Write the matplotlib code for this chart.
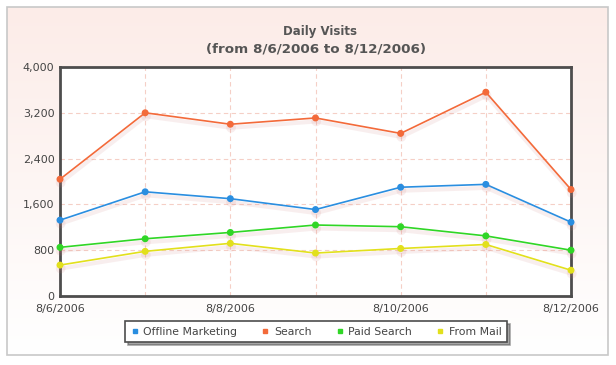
import matplotlib
matplotlib.use("Agg")
import matplotlib.pyplot as plt
import matplotlib.patheffects as pe
from matplotlib.patches import Rectangle
import numpy as np

dates = ["8/6/2006", "8/7/2006", "8/8/2006", "8/9/2006", "8/10/2006", "8/11/2006", "8/12/2006"]
offline_marketing = [1325, 1820, 1700, 1510, 1900, 1950, 1290]
search = [2040, 3200, 3000, 3110, 2840, 3560, 1860]
paid_search = [850, 1000, 1110, 1240, 1210, 1050, 800]
from_mail = [540, 780, 920, 750, 830, 900, 450]
y_ticks = [0, 800, 1600, 2400, 3200, 4000]

series = [
    ("Offline Marketing", offline_marketing, "#2a8ee0"),
    ("Search", search, "#f36a3a"),
    ("Paid Search", paid_search, "#30d626"),
    ("From Mail", from_mail, "#e2e01c"),
]

W, H = 616, 365
fig = plt.figure(figsize=(W / 100, H / 100), dpi=100)
fig.patch.set_facecolor("white")

# background frame with gradient
bg = fig.add_axes([0, 0, 1, 1], zorder=0)
bg.set_xlim(0, W)
bg.set_ylim(H, 0)
bg.axis("off")
grad = np.linspace(1, 0, 256).reshape(-1, 1)
top_col = np.array([252, 236, 232]) / 255.0
bot_col = np.array([255, 255, 255]) / 255.0
img = grad[..., None] * top_col + (1 - grad[..., None]) * bot_col
bg.imshow(img, extent=[7, 608, 355, 7], aspect="auto", zorder=0)
bg.add_patch(Rectangle((7, 7), 601, 348, fill=False, edgecolor="#c8c8c8", lw=1.2, zorder=1))

ax = fig.add_axes([60 / W, 1 - 296 / H, (571 - 60) / W, (296 - 67) / H], zorder=2)
ax.set_facecolor("white")
x = np.arange(len(dates))

for name, vals, col in series:
    ax.plot(x, vals, color=col, lw=1.2, marker="o", markersize=4, label=name,
            clip_on=False, zorder=4,
            path_effects=[pe.SimpleLineShadow(offset=(0.5, -2.5), shadow_color="#d08080", alpha=0.13, linewidth=3),
                          pe.Normal()])

ax.set_xlim(0, len(dates) - 1)
ax.set_ylim(0, 4000)
ax.set_yticks(y_ticks)
ax.set_yticklabels([f"{v:,}" for v in y_ticks])
ax.set_xticks(x[::2])
ax.set_xticklabels(dates[::2])
for xv in x:
    ax.axvline(xv, color="#f5cfc6", lw=0.8, ls=(0, (4, 3)), zorder=1)
for yv in y_ticks:
    ax.axhline(yv, color="#f5cfc6", lw=0.8, ls=(0, (4, 3)), zorder=1)

for s in ax.spines.values():
    s.set_color("#4d4d4d")
    s.set_linewidth(2)
ax.tick_params(axis="both", length=0, labelsize=8, colors="#444444", pad=4)
ax.tick_params(axis="x", pad=6)

fig.text(320 / W, 1 - 31 / H, "Daily Visits", ha="center", va="center",
         fontsize=8.5, fontweight="bold", color="#555555")
fig.text(316 / W, 1 - 49 / H, "(from 8/6/2006 to 8/12/2006)", ha="center", va="center",
         fontsize=9.7, fontweight="bold", color="#555555")

handles = [plt.Line2D([], [], ls="none", marker="s", markersize=3.5, color=c) for _, _, c in series]
leg = fig.legend(handles, [n for n, _, _ in series], loc="center",
                 bbox_to_anchor=(316 / W, 1 - 331.7 / H), ncol=4, fontsize=7.8,
                 frameon=True, fancybox=False, shadow=True, handlelength=0.8,
                 handletextpad=0.4, columnspacing=2.2, borderpad=0.5)
leg.get_frame().set_edgecolor("#4d4d4d")
leg.get_frame().set_linewidth(1.2)
for t in leg.get_texts():
    t.set_color("#444444")

fig.savefig("out.png", dpi=100)
